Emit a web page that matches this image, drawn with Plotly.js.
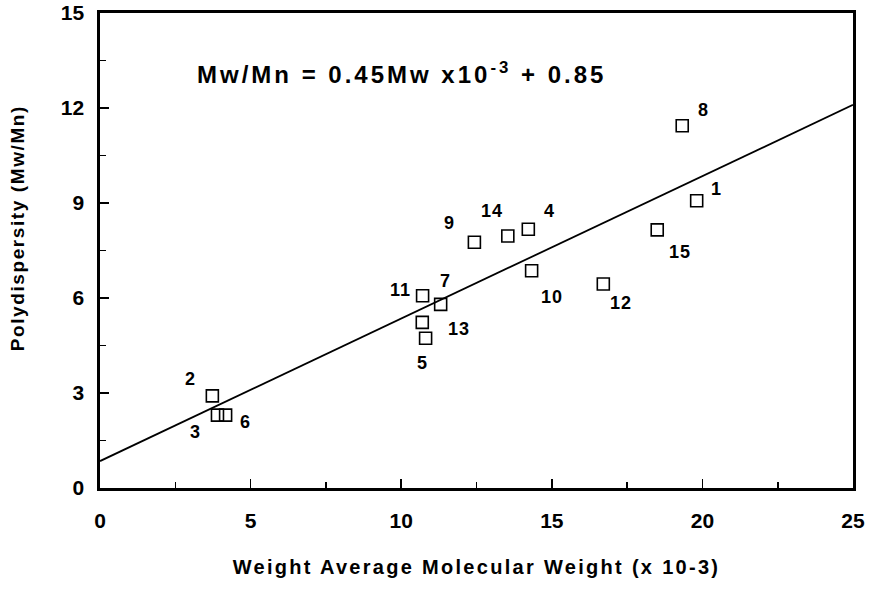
<!DOCTYPE html>
<html>
<head>
<meta charset="utf-8">
<script src="https://cdn.plot.ly/plotly-3.0.1.min.js"></script>
<style>
  html, body { margin: 0; padding: 0; background: #fff; }
  #chart { width: 869px; height: 593px; }
  text[style*="font-size: 24px"] { letter-spacing: 3px; }
  text[style*="font-size: 20px"] { letter-spacing: 2.3px; }
  text[style*="font-size: 19px"] { letter-spacing: 1.6px; }
  text[style*="font-size: 18px"] { letter-spacing: 1px; }
</style>
</head>
<body>
<div id="chart"></div>
<script>
// Data
const sampleIds = ['1','2','3','4','5','6','7','8','9','10','11','12','13','14','15'];
const mw = [19.81, 3.73, 3.90, 14.22, 10.81, 4.17, 11.31, 19.33, 12.43, 14.33, 10.71, 16.71, 10.70, 13.54, 18.50];
const polydispersity = [9.07, 2.91, 2.30, 8.17, 4.73, 2.30, 5.80, 11.44, 7.76, 6.86, 6.07, 6.44, 5.23, 7.96, 8.15];
const fitX = [0, 25];
const fitY = [0.85, 12.1];
const xTickVals = [0, 5, 10, 15, 20, 25];
const yTickVals = [0, 3, 6, 9, 12, 15];

// Label offsets (pixels) relative to each point, same order as sampleIds
const labelOffsets = [
  [20, -12], [-22, -17], [-22, 17], [21, -18], [-3, 25],
  [20, 7], [5, -23], [21, -16], [-25, -19], [20, 26],
  [-22, -6], [18, 19], [37, 7], [-16, -25], [23, 22]
];

const FONT = 'Liberation Sans, Arial, sans-serif';

const traces = [
  {
    x: fitX, y: fitY, mode: 'lines', type: 'scatter',
    line: { color: '#000', width: 1.8 }, hoverinfo: 'skip', showlegend: false
  },
  {
    x: mw, y: polydispersity, mode: 'markers', type: 'scatter',
    marker: { symbol: 'square-open', size: 12, color: '#000', line: { width: 1.6, color: '#000' } },
    showlegend: false
  }
];

const annotations = sampleIds.map((id, i) => ({
  x: mw[i], y: polydispersity[i], xref: 'x', yref: 'y',
  text: '<b>' + id + '</b>', showarrow: false,
  xshift: labelOffsets[i][0], yshift: -labelOffsets[i][1],
  xanchor: 'center', yanchor: 'middle',
  font: { family: FONT, size: 18, color: '#000' }
}));

annotations.push({
  xref: 'paper', yref: 'paper', x: 0.40, y: 0.874,
  xanchor: 'center', yanchor: 'middle', showarrow: false,
  text: '<b>Mw/Mn = 0.45Mw x10<sup>-3</sup> + 0.85</b>',
  font: { family: FONT, size: 24, color: '#000' }
});

annotations.push({
  xref: 'paper', yref: 'paper', x: -0.110, y: 0.547,
  xanchor: 'center', yanchor: 'middle', showarrow: false, textangle: -90,
  text: '<b>Polydispersity (Mw/Mn)</b>',
  font: { family: FONT, size: 19, color: '#000' }
});

const axisCommon = {
  showgrid: false, zeroline: false, showline: true, linecolor: '#000', linewidth: 2.6,
  mirror: true, ticks: 'inside', ticklen: 9, tickwidth: 1.6, tickcolor: '#000',
  tickfont: { family: FONT, size: 21, color: '#000', weight: 'bold' }
};

const layout = {
  width: 869, height: 593,
  margin: { l: 100, r: 16, t: 13, b: 105 },
  paper_bgcolor: '#fff', plot_bgcolor: '#fff',
  showlegend: false,
  xaxis: Object.assign({}, axisCommon, {
    range: [0, 25], tickvals: xTickVals, ticklabelstandoff: 12,
    minor: { dtick: 2.5, ticks: 'inside', ticklen: 6, tickwidth: 1.6, tickcolor: '#000', showgrid: false },
    title: { text: '<b>Weight Average Molecular Weight (x 10-3)</b>', standoff: 30,
      font: { family: FONT, size: 20, color: '#000' } }
  }),
  yaxis: Object.assign({}, axisCommon, {
    range: [0, 15], tickvals: yTickVals, ticklabelstandoff: 9,
    minor: { dtick: 1.5, ticks: 'inside', ticklen: 6, tickwidth: 1.6, tickcolor: '#000', showgrid: false }
  }),
  annotations: annotations
};

Plotly.newPlot('chart', traces, layout, { displayModeBar: false, staticPlot: true });
</script>
</body>
</html>
